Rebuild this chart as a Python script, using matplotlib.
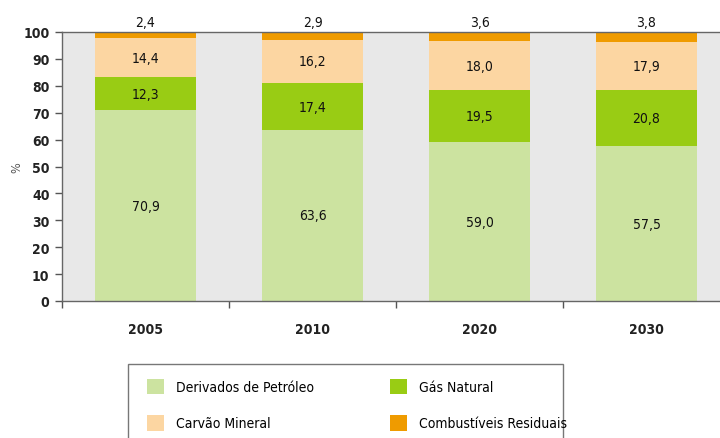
import matplotlib
matplotlib.use("Agg")
import matplotlib.pyplot as plt
from matplotlib.patches import Rectangle
import numpy as np

years = ["2005", "2010", "2020", "2030"]
derivados = [70.9, 63.6, 59.0, 57.5]
gas = [12.3, 17.4, 19.5, 20.8]
carvao = [14.4, 16.2, 18.0, 17.9]
residuais = [2.4, 2.9, 3.6, 3.8]
series_names = ["Derivados de Petróleo", "Gás Natural", "Carvão Mineral", "Combustíveis Residuais"]
colors = ["#cce3a0", "#99cc14", "#fcd6a2", "#ef9b00"]
yticks = [0, 10, 20, 30, 40, 50, 60, 70, 80, 90, 100]

def fmt(v):
    return f"{v:.1f}".replace(".", ",")

plt.rcParams['font.family'] = ['DejaVu Sans']
plt.rcParams['font.stretch'] = 'condensed'

fig = plt.figure(figsize=(7.2, 4.39), dpi=100)
W, H = 720, 439
ax = fig.add_axes([62 / W, (H - 302) / H, (730 - 62) / W, (302 - 33) / H])
ax.set_facecolor("#e8e8e8")

x = np.arange(len(years))
data = [derivados, gas, carvao, residuais]
bottom = np.zeros(len(years))
handles = []
for i, (vals, c, name) in enumerate(zip(data, colors, series_names)):
    vals = np.array(vals)
    b = ax.bar(x, vals, 0.6, bottom=bottom, color=c, label=name, zorder=2)
    handles.append(b)
    for xi, v, bt in zip(x, vals, bottom):
        if i == 3:
            ax.text(xi, 100 + 1.3, fmt(v), ha="center", va="bottom", fontsize=10, color="#111111", clip_on=False)
        else:
            ax.text(xi, bt + v / 2, fmt(v), ha="center", va="center", fontsize=10, color="#111111")
    bottom = bottom + vals

ax.set_xlim(-0.5, 3.5)
ax.set_ylim(0, 100)
ax.set_yticks(yticks)
ax.set_yticklabels([str(t) for t in yticks], fontsize=10, fontweight="bold", color="#222222")
ax.set_xticks([-0.5, 0.5, 1.5, 2.5, 3.5])
ax.set_xticklabels([])
ax.set_xticks(x, minor=True)
ax.set_xticklabels(years, minor=True, fontsize=10, fontweight="bold", color="#222222")
ax.tick_params(axis="x", which="major", direction="out", length=5, color="#555555", width=1)
ax.tick_params(axis="x", which="minor", length=0, pad=15)
ax.tick_params(axis="y", direction="out", length=5, color="#555555", width=1, pad=4)
for s in ["left", "bottom", "top"]:
    ax.spines[s].set_color("#666666")
    ax.spines[s].set_linewidth(1)
ax.spines["right"].set_visible(False)
ax.set_ylabel("%", fontsize=9, color="#555555")
ax.yaxis.set_label_coords(-39 / (730 - 62), 0.5)

# legend frame extending beyond the bottom edge
fig.patches.append(Rectangle((128 / W, -0.05), (563 - 128) / W, (H - 365) / H + 0.05,
                             transform=fig.transFigure, fill=False, edgecolor="#777777", linewidth=1))
order = [handles[0], handles[2], handles[1], handles[3]]
labels = [series_names[0], series_names[2], series_names[1], series_names[3]]
leg = fig.legend(order, labels, ncol=2, loc="upper left",
                 bbox_to_anchor=(134 / W, (H - 367) / H), frameon=False,
                 fontsize=10, handlelength=1.25, handleheight=1.35, handletextpad=0.85,
                 columnspacing=5.5, labelspacing=1.5)

fig.savefig("out.png", dpi=100)
